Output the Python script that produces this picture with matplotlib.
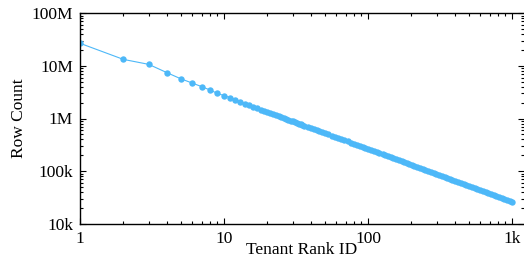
import matplotlib
matplotlib.use('Agg')
import matplotlib.pyplot as plt
import matplotlib.ticker as ticker
import numpy as np

# tenant rank vs row count (counts in thousands)
ranks = list(range(1, 37)) + [
    38, 40, 42, 44, 46, 48, 50, 53, 56, 59, 62, 65, 68, 72, 76, 80, 84, 88, 92,
    96, 100, 105, 110, 115, 120, 126, 132, 138, 144, 150, 157, 164, 171, 178,
    185, 193, 201, 210, 220, 230, 240, 250, 262, 274, 286, 298, 310, 325, 340,
    355, 370, 385, 400, 420, 440, 460, 480, 500, 525, 550, 575, 600, 625, 655,
    685, 715, 745, 775, 810, 845, 880, 920, 960, 1000]
counts_k = [
    26900, 13300, 10700, 7470, 5700, 4730, 4030, 3480, 3000, 2720,
    2500, 2290, 2090, 1896, 1769, 1658, 1560, 1473, 1395, 1325,
    1262, 1204, 1152, 1103, 1059, 1018, 980, 945, 912, 882,
    853, 826, 801, 777, 755, 734,
    695, 660, 629, 600, 574, 550, 528, 498, 471, 447, 425, 405, 387, 366,
    346, 329, 313, 299, 286, 274, 263, 250, 239, 228.5, 219, 208.5, 199,
    190.2, 182.3, 174.9, 167.1, 159.9, 153.4, 147.3, 141.7, 135.8, 130.3,
    124.8, 119.1, 113.9, 109.1, 104.7, 99.9, 95.5, 91.5, 87.8, 84.4, 80.4,
    76.9, 73.6, 70.6, 67.8, 65.3, 62.2, 59.3, 56.7, 54.4, 52.2, 49.7, 47.4,
    45.3, 43.4, 41.7, 39.8, 38.0, 36.4, 35.0, 33.6, 32.1, 30.8, 29.6, 28.3,
    27.1, 26.0]

x_ticks = [1, 10, 100, 1000]
x_labels = ['1', '10', '100', '1k']
y_ticks = [1e4, 1e5, 1e6, 1e7, 1e8]
y_labels = ['10k', '100k', '1M', '10M', '100M']

plt.rcParams['font.family'] = ['Liberation Serif', 'DejaVu Serif']
plt.rcParams['font.size'] = 12.5

fig = plt.figure(figsize=(5.24, 2.67), dpi=100)
ax = fig.add_axes([80 / 524, 1 - 223.7 / 267, 444 / 524, (223.7 - 13.3) / 267])

counts = np.array(counts_k) * 1000
ax.plot(ranks, counts, color='#4db8f8', lw=0.8, marker='o', ms=4.6,
        markeredgewidth=0)

ax.set_xscale('log')
ax.set_yscale('log')
ax.set_xlim(1, 1210)
ax.set_ylim(1e4, 1e8)

ax.set_xticks(x_ticks)
ax.set_xticklabels(x_labels)
ax.set_yticks(y_ticks)
ax.set_yticklabels(y_labels)
ax.xaxis.set_minor_locator(ticker.LogLocator(base=10, subs=np.arange(2, 10)))
ax.yaxis.set_minor_locator(ticker.LogLocator(base=10, subs=np.arange(2, 10)))
ax.xaxis.set_minor_formatter(ticker.NullFormatter())
ax.yaxis.set_minor_formatter(ticker.NullFormatter())

ax.tick_params(which='both', direction='in', top=True, right=True, width=0.8)
ax.tick_params(which='major', length=4)
ax.tick_params(which='minor', length=2.2)
ax.tick_params(axis='y', pad=5)
ax.tick_params(axis='x', pad=5)

for s in ['left', 'bottom', 'top']:
    ax.spines[s].set_linewidth(1.0)
ax.spines['right'].set_visible(False)

ax.set_xlabel('Tenant Rank ID', labelpad=-3)
ax.set_ylabel('Row Count', labelpad=3)

fig.savefig('out.png', dpi=100)
